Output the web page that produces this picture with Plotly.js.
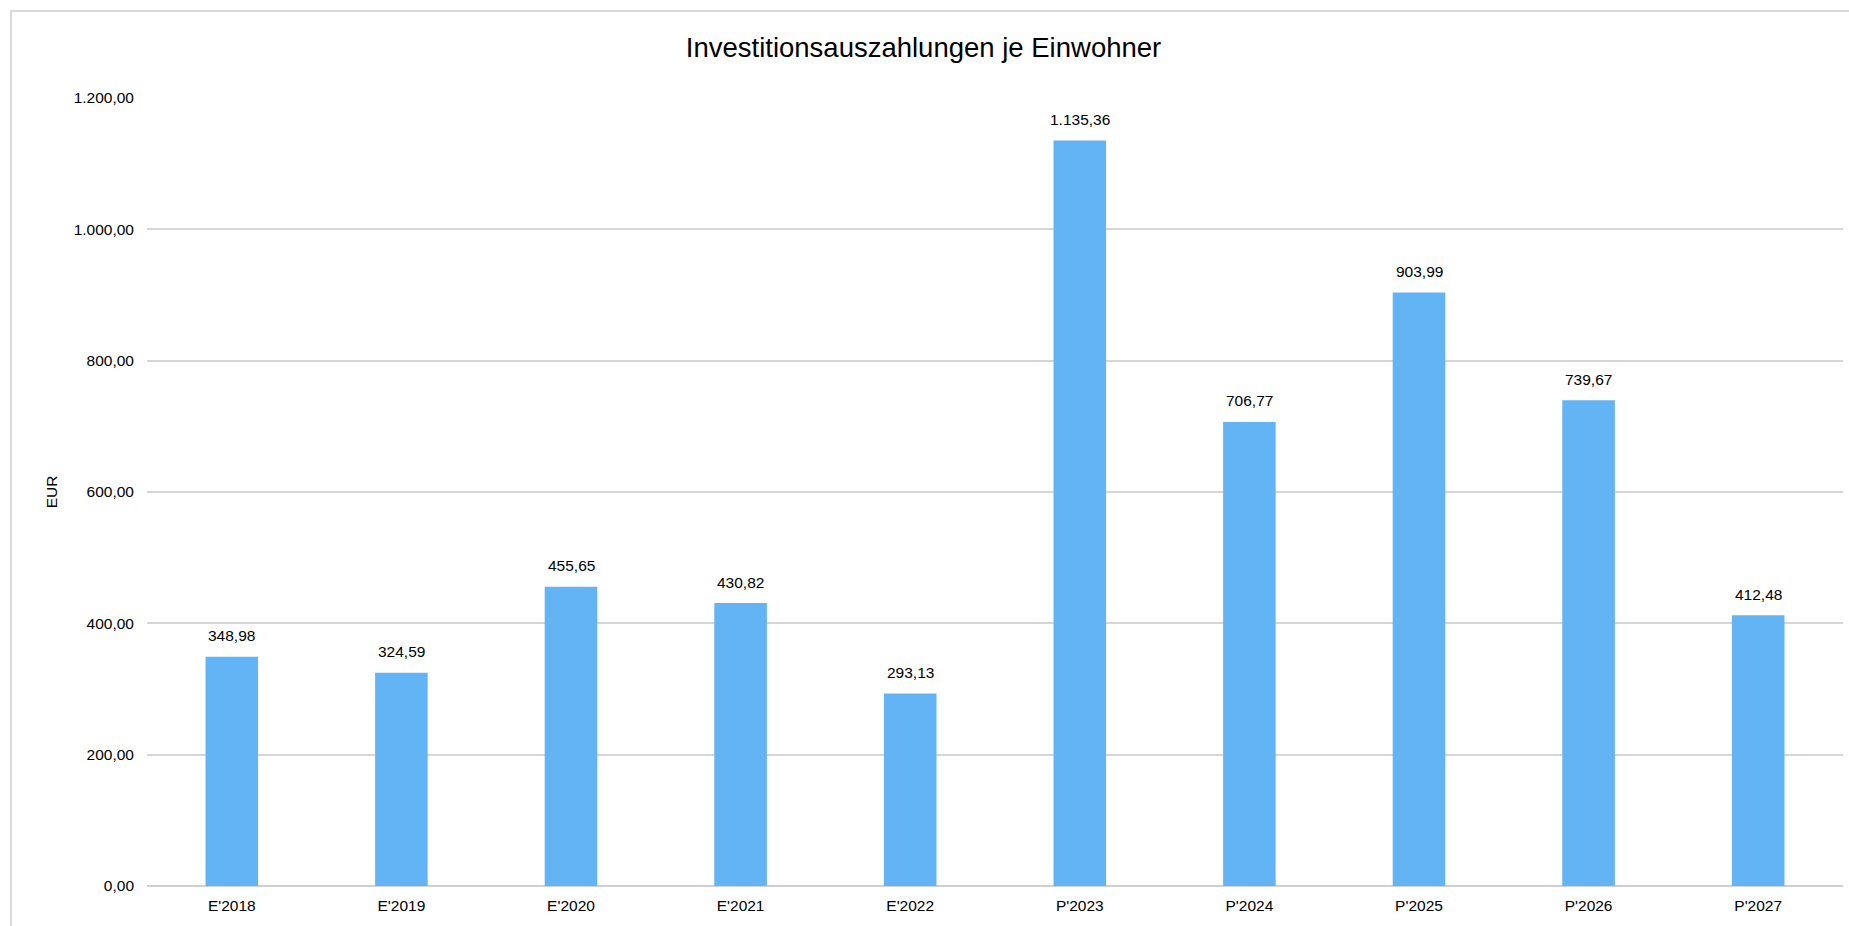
<!DOCTYPE html>
<html>
<head>
<meta charset="utf-8">
<script src="https://cdn.plot.ly/plotly-3.0.1.min.js"></script>
<style>
html,body{margin:0;padding:0;background:#fff;}
#chart{width:1849px;height:926px;}
</style>
</head>
<body>
<div id="chart"></div>
<script>
const categories = ["E'2018","E'2019","E'2020","E'2021","E'2022","P'2023","P'2024","P'2025","P'2026","P'2027"];
const values = [348.98, 324.59, 455.65, 430.82, 293.13, 1135.36, 706.77, 903.99, 739.67, 412.48];
const yTicks = [0, 200, 400, 600, 800, 1000, 1200];

function fmtDE(v){
  const parts = v.toFixed(2).split('.');
  const intPart = parts[0].replace(/\B(?=(\d{3})+(?!\d))/g, '.');
  return intPart + ',' + parts[1];
}

const FONT = 'Arial, "Liberation Sans", Helvetica, sans-serif';

const trace = {
  type: 'bar',
  x: categories,
  y: values,
  marker: {color: '#63b4f5'},
  hoverinfo: 'x+y'
};

const annotations = categories.map((c, i) => ({
  x: c, y: values[i], xref: 'x', yref: 'y',
  text: fmtDE(values[i]),
  showarrow: false,
  yanchor: 'middle', xanchor: 'center',
  yshift: 21,
  font: {family: FONT, size: 15.5, color: '#000'}
}));

const W = 1849, H = 926;
const L = 147, R = 6, T = 98, B = 40;
const pw = W - L - R, ph = H - T - B;
const px = X => (X - L) / pw;
const py = Y => (H - B - Y) / ph;

const layout = {
  width: W, height: H,
  margin: {l: L, r: R, t: T, b: B, pad: 0},
  paper_bgcolor: '#fff', plot_bgcolor: '#fff',
  separators: ',.',
  showlegend: false,
  bargap: 0.69,
  font: {family: FONT, size: 15.5, color: '#000'},
  title: {
    text: 'Investitionsauszahlungen je Einwohner',
    font: {family: FONT, size: 27.5, color: '#000'},
    xref: 'paper', x: px(923.5), xanchor: 'center',
    yref: 'container', y: 1 - 47.5 / H, yanchor: 'middle'
  },
  xaxis: {
    type: 'category',
    showgrid: false,
    showline: false,
    zeroline: false,
    ticks: '',
    ticklabelstandoff: 8,
    tickfont: {family: FONT, size: 15.5, color: '#000'},
    automargin: false
  },
  yaxis: {
    range: [0, 1200],
    tickvals: yTicks,
    tickformat: ',.2f',
    showgrid: true,
    gridcolor: '#d6d6d6',
    gridwidth: 2,
    zeroline: true,
    zerolinecolor: '#d0d0d0',
    zerolinewidth: 2,
    showline: false,
    ticks: '',
    ticklabelstandoff: 12,
    tickfont: {family: FONT, size: 15.5, color: '#000'},
    title: {text: 'EUR', font: {family: FONT, size: 15.5, color: '#000'}, standoff: 12},
    automargin: false,
    fixedrange: true
  },
  annotations: annotations,
  shapes: [{
    type: 'rect', xref: 'paper', yref: 'paper',
    x0: px(11), x1: px(W + 10), y0: py(H + 10), y1: py(11),
    line: {color: '#d9d9d9', width: 2},
    fillcolor: 'rgba(0,0,0,0)',
    layer: 'below'
  }]
};

Plotly.newPlot('chart', [trace], layout, {displayModeBar: false, staticPlot: true});
</script>
</body>
</html>
